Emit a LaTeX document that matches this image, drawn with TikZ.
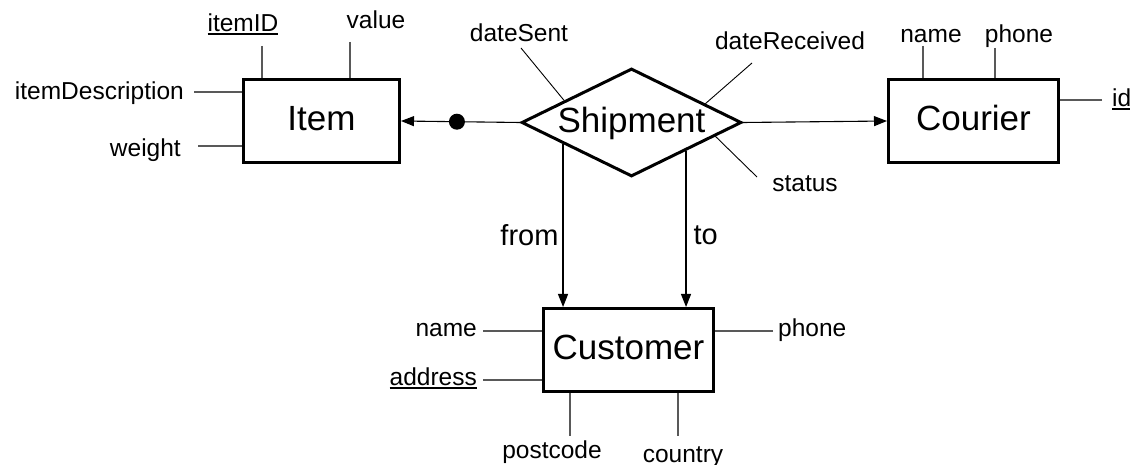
\documentclass[tikz,border=0pt]{standalone}
\usepackage{fontspec}
\setmainfont{Liberation Sans}
\usetikzlibrary{shapes.geometric,arrows.meta,calc}

% key attributes are underlined
\newcommand\keyattr[1]{\setbox0\hbox{#1}\rlap{\rule[-2.6bp]{\wd0}{1.2bp}}\box0}

\tikzset{
  entity/.style={draw, line width=3bp, minimum width=#1, minimum height=83bp,
    inner sep=0pt, text height=21bp, text depth=1bp,
    font=\fontsize{35bp}{42bp}\selectfont},
  relation/.style={diamond, aspect=2, draw, line width=3bp,
    minimum width=220bp, minimum height=108bp, inner sep=0pt,
    text height=21bp, text depth=1bp, font=\fontsize{35bp}{42bp}\selectfont},
  attr/.style={inner sep=0pt, font=\fontsize{24.5bp}{30bp}\selectfont},
  attrline/.style={line width=1.2bp, draw=black!65},
  thinline/.style={line width=0.9bp},
  link/.style={line width=1.1bp, -{Triangle[length=13bp,width=10bp]}},
  role/.style={inner sep=0pt, font=\fontsize{29bp}{35bp}\selectfont},
  joint/.style={circle, fill, inner sep=0pt, minimum size=16bp},
}

\begin{document}
\begin{tikzpicture}[x=1bp, y=-1bp]
\useasboundingbox (0,0) rectangle (1130,465);

% entities and the relationship
\node[entity=156bp] (item) at (321.5,121) {Item};
\node[entity=170bp] (courier) at (973.5,121) {Courier};
\node[entity=170bp] (cust) at (628.5,350) {Customer};
\node[relation] (ship) at (631.5,122.5) {Shipment};

% relationship links
\draw[link] (ship.west) -- node[joint, pos=0.53] (dot) {} (item.east);
\draw[link] (ship.east) -- (courier.west);

\coordinate (fromtop) at ($(ship.west)!0.386!(ship.south)$);
\coordinate (totop) at ($(ship.south)!0.489!(ship.east)$);
\draw[link] (fromtop) -- node[role, pos=0.62, anchor=base east, xshift=-4bp] (lblfrom) {from} (fromtop |- cust.north);
\draw[link] (totop) -- node[role, pos=0.6, anchor=base west, xshift=7bp] (lblto) {to} (totop |- cust.north);

% Item attributes
\node[attr, anchor=base] (a-itemid) at (243,32) {\keyattr{itemID}};
\coordinate (c-itemid) at (262,46);
\draw[attrline] (c-itemid) -- (c-itemid |- item.north);
\node[attr, anchor=base] (a-value) at (376,29) {value};
\coordinate (c-value) at (350,42);
\draw[attrline] (c-value) -- (c-value |- item.north);
\node[attr, anchor=base east] (a-desc) at (184,100) {itemDescription};
\coordinate (c-desc) at (194,92);
\draw[attrline] (c-desc) -- (c-desc -| item.west);
\node[attr, anchor=base east] (a-weight) at (181,157) {weight};
\coordinate (c-weight) at (198,146);
\draw[attrline] (c-weight) -- (c-weight -| item.west);

% Shipment attributes
\node[attr, anchor=base] (a-sent) at (519,42) {dateSent};
\coordinate (c-sent) at (521,48);
\draw[thinline] (c-sent) -- ($(ship.west)!0.396!(ship.north)$);
\node[attr, anchor=base] (a-recv) at (790,50) {dateReceived};
\coordinate (c-recv) at (752,63);
\draw[thinline] (c-recv) -- ($(ship.north)!0.662!(ship.east)$);
\node[attr, anchor=base] (a-status) at (805,192) {status};
\coordinate (c-status) at (757,177);
\draw[thinline] (c-status) -- ($(ship.east)!0.248!(ship.south)$);

% Courier attributes
\node[attr, anchor=base] (a-cname) at (931,43) {name};
\coordinate (c-cname) at (923,46);
\draw[attrline] (c-cname) -- (c-cname |- courier.north);
\node[attr, anchor=base] (a-cphone) at (1019,43) {phone};
\coordinate (c-cphone) at (995,48);
\draw[attrline] (c-cphone) -- (c-cphone |- courier.north);
\node[attr, anchor=base west] (a-cid) at (1112,107) {\keyattr{id}};
\coordinate (c-cid) at (1102,100);
\draw[attrline] (c-cid) -- (c-cid -| courier.east);

% Customer attributes
\node[attr, anchor=base east] (a-uname) at (477,337) {name};
\coordinate (c-uname) at (483,331);
\draw[attrline] (c-uname) -- (c-uname -| cust.west);
\node[attr, anchor=base east] (a-uaddr) at (477,386) {\keyattr{address}};
\coordinate (c-uaddr) at (483,380);
\draw[attrline] (c-uaddr) -- (c-uaddr -| cust.west);
\node[attr, anchor=base west] (a-uphone) at (778,337) {phone};
\coordinate (c-uphone) at (773,331);
\draw[attrline] (c-uphone) -- (c-uphone -| cust.east);
\node[attr, anchor=base] (a-upost) at (552,458) {postcode};
\coordinate (c-upost) at (570,436);
\draw[attrline] (c-upost) -- (c-upost |- cust.south);
\node[attr, anchor=base] (a-ucountry) at (683,462) {country};
\coordinate (c-ucountry) at (678,436);
\draw[attrline] (c-ucountry) -- (c-ucountry |- cust.south);
\end{tikzpicture}
\end{document}
